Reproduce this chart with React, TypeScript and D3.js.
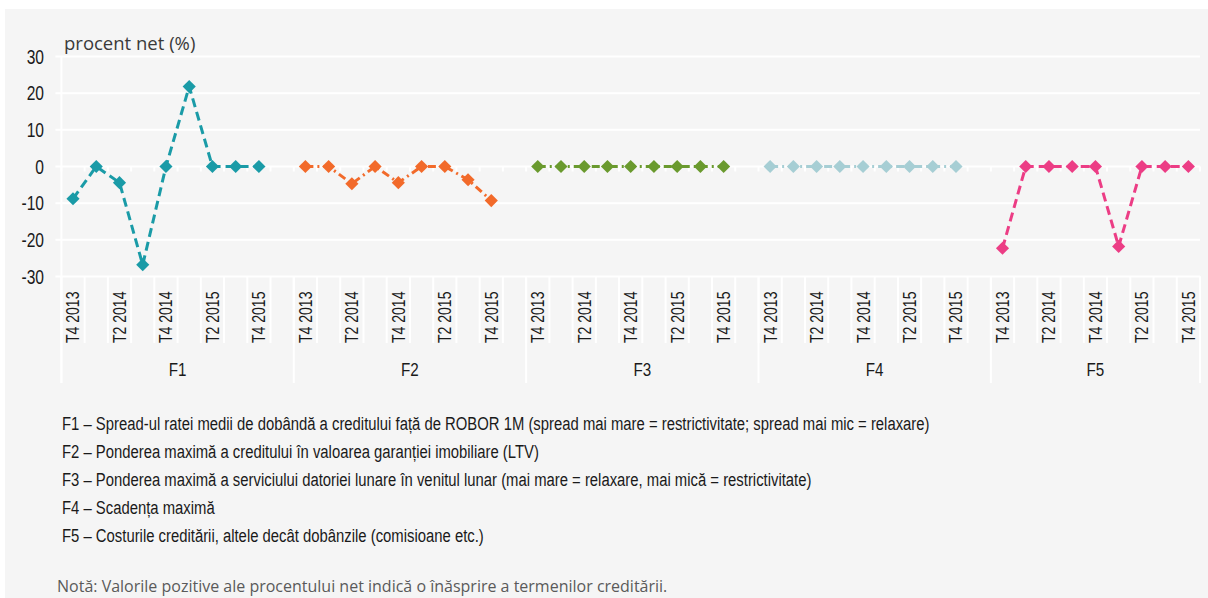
import React, { useEffect, useRef } from 'react';
import * as d3 from 'd3';

// quarters of each factor group
const quarters = ['T4 2013', 'T1 2014', 'T2 2014', 'T3 2014', 'T4 2014', 'T1 2015', 'T2 2015', 'T3 2015', 'T4 2015'];
const groups = ['F1', 'F2', 'F3', 'F4', 'F5'];
const yTicks = [30, 20, 10, 0, -10, -20, -30];

// net percentage per factor
const f1 = [-8.8, 0, -4.4, -26.8, 0, 21.8, 0, 0, 0];
const f2 = [0, 0, -4.7, 0, -4.4, 0, 0, -3.6, -9.3];
const f3 = [0, 0, 0, 0, 0, 0, 0, 0, 0];
const f4 = [0, 0, 0, 0, 0, 0, 0, 0, 0];
const f5 = [-22.3, 0, 0, 0, 0, -21.8, 0, 0, 0];
const seriesValues = [f1, f2, f3, f4, f5];
const colors = ['#1a9ba7', '#f26a2a', '#6a9a2e', '#a6ced4', '#ec3d85'];
const dashes = ['9 5', '8 4 2 4', '8 4 2 4', '8 4 2 4', '9 5'];

const legendLines = [
  'F1 – Spread-ul ratei medii de dobândă a creditului față de ROBOR 1M (spread mai mare = restrictivitate; spread mai mic = relaxare)',
  'F2 – Ponderea maximă a creditului în valoarea garanției imobiliare (LTV)',
  'F3 – Ponderea maximă a serviciului datoriei lunare în venitul lunar (mai mare = relaxare, mai mică = restrictivitate)',
  'F4 – Scadența maximă',
  'F5 – Costurile creditării, altele decât dobânzile (comisioane etc.)',
];
const note = 'Notă: Valorile pozitive ale procentului net indică o înăsprire a termenilor creditării.';

const W = 1208;
const H = 598;
const sans = '"Liberation Sans", Arial, sans-serif';
const light = '"Open Sans", "Noto Sans", sans-serif';
const SQ = 0.8; // horizontal squeeze to mimic a condensed face

export default function App() {
  const svgRef = useRef<SVGSVGElement>(null);

  useEffect(() => {
    const svg = d3.select(svgRef.current);
    svg.selectAll('*').remove();

    // one slot per quarter, plus an empty slot after every group except the last
    const slots: string[] = [];
    groups.forEach((g, gi) => {
      quarters.forEach(q => slots.push(`${g}|${q}`));
      if (gi < groups.length - 1) slots.push(`${g}|gap`);
    });

    const x = d3.scaleBand().domain(slots).range([61.4, 1200]).padding(0);
    const y = d3.scaleLinear().domain([-30, 30]).range([276.5, 56.5]);
    const bw = x.bandwidth();
    const left = 61.4;
    const right = 1200;

    svg.append('rect').attr('x', 5).attr('y', 9).attr('width', W - 5).attr('height', H - 9).attr('fill', '#f5f5f5');

    // gridlines
    svg.append('g').selectAll('line').data(yTicks).join('line')
      .attr('x1', left - 6).attr('x2', right)
      .attr('y1', d => y(d)).attr('y2', d => y(d))
      .attr('stroke', '#fff').attr('stroke-width', 2);

    // y axis line, extends through the category label area
    svg.append('line').attr('x1', left).attr('x2', left).attr('y1', y(30)).attr('y2', 383)
      .attr('stroke', '#fff').attr('stroke-width', 2);

    // tick marks at zero line and at the label area
    const bounds = slots.map(s => x(s) as number).concat([right]);
    svg.append('g').selectAll('line').data(bounds).join('line')
      .attr('x1', d => d).attr('x2', d => d)
      .attr('y1', y(0)).attr('y2', y(0) + 5)
      .attr('stroke', '#fff').attr('stroke-width', 2);
    svg.append('g').selectAll('line').data(bounds).join('line')
      .attr('x1', d => d).attr('x2', d => d)
      .attr('y1', y(-30)).attr('y2', 343)
      .attr('stroke', '#fff').attr('stroke-width', 2);

    // group separators
    const groupBounds = groups.map(g => x(`${g}|${quarters[0]}`) as number).concat([right]);
    svg.append('g').selectAll('line').data(groupBounds).join('line')
      .attr('x1', d => d).attr('x2', d => d)
      .attr('y1', y(-30)).attr('y2', 383)
      .attr('stroke', '#fff').attr('stroke-width', 2);

    // y tick labels
    svg.append('g').selectAll('text').data(yTicks).join('text')
      .attr('transform', d => `translate(44,${y(d)}) scale(0.78,1)`)
      .attr('dy', '0.36em')
      .attr('text-anchor', 'end')
      .attr('font-family', sans).attr('font-size', 20).attr('fill', '#1a1a1a')
      .text(d => d);

    svg.append('text').attr('x', 64).attr('y', 50)
      .attr('font-family', light).attr('font-size', 18.5).attr('fill', '#3a3a3a')
      .text('procent net (%)');

    // category labels, every other quarter
    const labelled = slots.filter(s => quarters.indexOf(s.split('|')[1]) % 2 === 0);
    svg.append('g').selectAll('text').data(labelled).join('text')
      .attr('transform', d => `translate(${(x(d) as number) + bw / 2},343) rotate(-90) scale(0.78,1)`)
      .attr('dy', '0.36em')
      .attr('font-family', sans).attr('font-size', 18).attr('fill', '#1a1a1a')
      .text(d => d.split('|')[1]);

    // group labels
    svg.append('g').selectAll('text').data(groups).join('text')
      .attr('transform', (d, i) => `translate(${(groupBounds[i] + groupBounds[i + 1]) / 2},369) scale(${SQ},1)`)
      .attr('dy', '0.36em')
      .attr('text-anchor', 'middle')
      .attr('font-family', sans).attr('font-size', 19).attr('fill', '#1a1a1a')
      .text(d => d);

    // series
    const line = d3.line<[string, number]>()
      .x(d => (x(d[0]) as number) + bw / 2)
      .y(d => y(d[1]));
    const diamond = d3.symbol().type(d3.symbolDiamond2).size(110);

    groups.forEach((g, gi) => {
      const pts: [string, number][] = quarters.map((q, qi) => [`${g}|${q}`, seriesValues[gi][qi]]);
      svg.append('path').datum(pts)
        .attr('fill', 'none').attr('stroke', colors[gi]).attr('stroke-width', 3)
        .attr('stroke-dasharray', dashes[gi])
        .attr('d', line);
      svg.append('g').selectAll('path').data(pts).join('path')
        .attr('transform', d => `translate(${(x(d[0]) as number) + bw / 2},${y(d[1])})`)
        .attr('d', diamond)
        .attr('fill', colors[gi]);
    });

    // legend text
    svg.append('g').selectAll('text').data(legendLines).join('text')
      .attr('transform', (d, i) => `translate(62,${430 + i * 28}) scale(0.782,1)`)
      .attr('font-family', sans).attr('font-size', 19).attr('fill', '#1a1a1a')
      .text(d => d);

    svg.append('text').attr('x', 57).attr('y', 592)
      .attr('font-family', light).attr('font-size', 16).attr('fill', '#5a5a5a')
      .text(note);
  }, []);

  return (
    <svg ref={svgRef} width={W} height={H} style={{ position: 'absolute', left: 0, top: 0, background: '#fff' }} />
  );
}
